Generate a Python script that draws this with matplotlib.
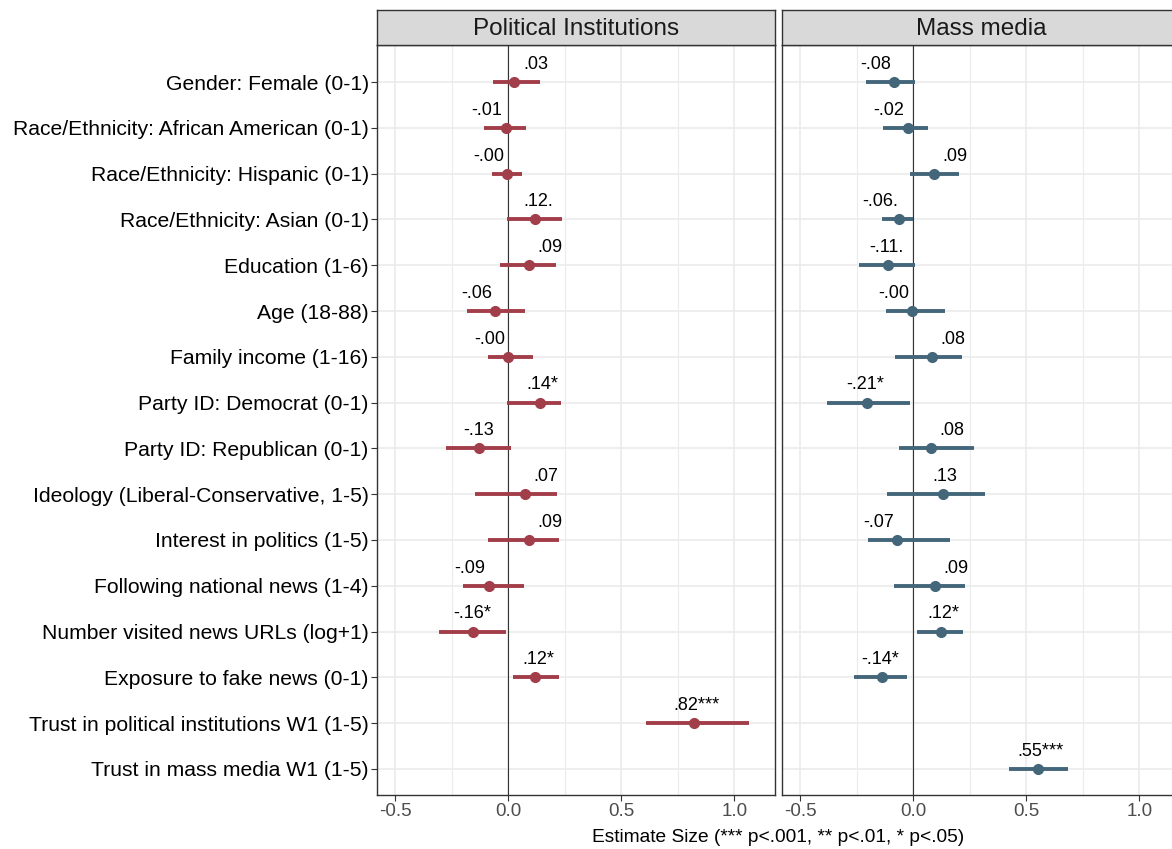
import numpy as np
import matplotlib.pyplot as plt

plt.rcParams['font.family'] = ['Liberation Sans', 'DejaVu Sans']

# predictors, top to bottom
terms = ["Gender: Female (0-1)",
         "Race/Ethnicity: African American (0-1)",
         "Race/Ethnicity: Hispanic (0-1)",
         "Race/Ethnicity: Asian (0-1)",
         "Education (1-6)",
         "Age (18-88)",
         "Family income (1-16)",
         "Party ID: Democrat (0-1)",
         "Party ID: Republican (0-1)",
         "Ideology (Liberal-Conservative, 1-5)",
         "Interest in politics (1-5)",
         "Following national news (1-4)",
         "Number visited news URLs (log+1)",
         "Exposure to fake news (0-1)",
         "Trust in political institutions W1 (1-5)",
         "Trust in mass media W1 (1-5)"]

# Political institutions model (nan = term not in model)
pol_est = [0.025, -0.01, -0.003, 0.12, 0.094, -0.06, -0.002, 0.14, -0.128,
           0.075, 0.09, -0.085, -0.156, 0.12, 0.824, np.nan]
pol_lo = [-0.068, -0.106, -0.07, -0.007, -0.035, -0.18, -0.09, -0.005, -0.276,
          -0.148, -0.09, -0.198, -0.308, 0.02, 0.61, np.nan]
pol_hi = [0.142, 0.079, 0.06, 0.238, 0.211, 0.075, 0.11, 0.235, 0.013,
          0.216, 0.225, 0.07, -0.01, 0.227, 1.066, np.nan]
pol_lab = [".03", "-.01", "-.00", ".12.", ".09", "-.06", "-.00", ".14*", "-.13",
           ".07", ".09", "-.09", "-.16*", ".12*", ".82***", ""]
pol_lab_x = [0.121, -0.094, -0.086, 0.131, 0.183, -0.14, -0.083, 0.153, -0.131,
             0.166, 0.183, -0.17, -0.16, 0.132, 0.833, np.nan]

# Mass media model
med_est = [-0.084, -0.022, 0.094, -0.062, -0.113, -0.003, 0.082, -0.205, 0.08,
           0.13, -0.07, 0.096, 0.122, -0.138, np.nan, 0.551]
med_lo = [-0.207, -0.132, -0.016, -0.137, -0.238, -0.12, -0.08, -0.38, -0.062,
          -0.116, -0.198, -0.084, 0.018, -0.261, np.nan, 0.422]
med_hi = [0.006, 0.065, 0.201, 0.0, 0.006, 0.14, 0.215, -0.016, 0.267,
          0.319, 0.163, 0.229, 0.222, -0.028, np.nan, 0.685]
med_lab = ["-.08", "-.02", ".09", "-.06.", "-.11.", "-.00", ".08", "-.21*", ".08",
           ".13", "-.07", ".09", ".12*", "-.14*", "", ".55***"]
med_lab_x = [-0.166, -0.108, 0.184, -0.148, -0.117, -0.084, 0.174, -0.21, 0.171,
             0.14, -0.152, 0.187, 0.133, -0.144, np.nan, 0.563]

panels = [("Political Institutions", pol_est, pol_lo, pol_hi, pol_lab, pol_lab_x, "#A23E4A"),
          ("Mass media", med_est, med_lo, med_hi, med_lab, med_lab_x, "#44667A")]

W, H = 1172, 849
fig = plt.figure(figsize=(W / 100, H / 100), dpi=100)

n = len(terms)
ypos = np.arange(n, 0, -1)  # first term at top

lefts = [377, 782]
pw = 398
top, bottom = 45, 795
strip_h = 35

for k, (title, est, lo, hi, lab, lab_x, col) in enumerate(panels):
    ax = fig.add_axes([lefts[k] / W, 1 - bottom / H, pw / W, (bottom - top) / H])
    ax.set_xlim(-0.58, 1.18)
    ax.set_ylim(0.43, n + 0.81)
    ax.set_xticks([-0.5, 0.0, 0.5, 1.0])
    ax.set_xticklabels(["-0.5", "0.0", "0.5", "1.0"])
    ax.set_xticks([-0.25, 0.25, 0.75], minor=True)
    ax.set_yticks(ypos)
    ax.grid(True, which='major', color='#EBEBEB', lw=1.2, zorder=0)
    ax.grid(True, which='minor', axis='x', color='#EBEBEB', lw=0.8, zorder=0)
    ax.set_axisbelow(True)
    ax.axvline(0, color='#333333', lw=0.8, zorder=1)

    est = np.array(est)
    lo = np.array(lo)
    hi = np.array(hi)
    ok = ~np.isnan(est)
    ax.hlines(ypos[ok], lo[ok], hi[ok], color=col, lw=2.8, zorder=3)
    ax.plot(est[ok], ypos[ok], 'o', color=col, ms=7, zorder=4)
    for y, lx, t in zip(ypos, lab_x, lab):
        if t:
            ax.text(lx, y + 0.2, t, ha='center', va='bottom', fontsize=13, color='black')

    for s in ax.spines.values():
        s.set_color('#333333')
        s.set_linewidth(1.0)
    ax.tick_params(axis='x', which='major', length=4, color='#333333',
                   labelsize=13.5, labelcolor='#4D4D4D', pad=2)
    ax.tick_params(axis='x', which='minor', length=0)
    if k == 0:
        ax.set_yticklabels(terms)
        ax.tick_params(axis='y', length=4, color='#333333', labelsize=15.2,
                       labelcolor='black', pad=2)
    else:
        ax.set_yticklabels([])
        ax.tick_params(axis='y', length=0)

    # facet strip
    sax = fig.add_axes([lefts[k] / W, 1 - top / H, pw / W, strip_h / H])
    sax.set_xticks([])
    sax.set_yticks([])
    sax.set_facecolor('#D9D9D9')
    for s in sax.spines.values():
        s.set_color('#333333')
        s.set_linewidth(1.0)
    sax.text(0.5, 0.47, title, ha='center', va='center', fontsize=17.5, color='#1A1A1A',
             transform=sax.transAxes)

fig.text(778 / W, 1 - 837 / H,
         "Estimate Size (*** p<.001, ** p<.01, * p<.05)",
         ha='center', va='center', fontsize=13.8)

fig.savefig("out.png", dpi=100)
